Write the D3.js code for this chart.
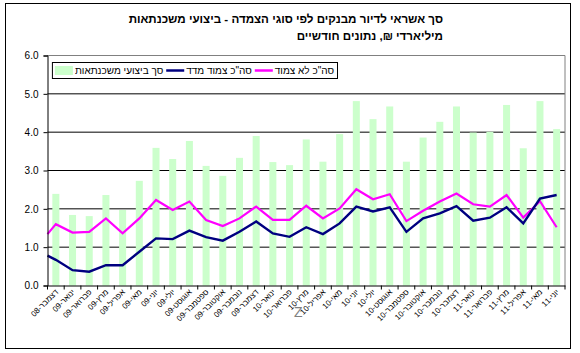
<!DOCTYPE html>
<html>
<head>
<meta charset="utf-8">
<script src="https://cdn.jsdelivr.net/npm/d3@7"></script>
<style>
  body { margin: 0; background: #fff; }
  svg { display: block; font-family: Arial, "Liberation Sans", "DejaVu Sans", sans-serif; }
</style>
</head>
<body>
<div id="chart"></div>
<script>
// months (x categories)
const months = [
  "דצמבר-08",
  "ינואר-09", "פברואר-09", "מרץ-09", "אפריל-09", "מאי-09", "יוני-09",
  "יולי-09", "אוגוסט-09", "ספטמבר-09", "אוקטובר-09", "נובמבר-09", "דצמבר-09",
  "ינואר-10", "פברואר-10", "מרץ-10", "אפריל-10", "מאי-10", "יוני-10",
  "יולי-10", "אוגוסט-10", "ספטמבר-10", "אוקטובר-10", "נובמבר-10", "דצמבר-10",
  "ינואר-11", "פברואר-11", "מרץ-11", "אפריל-11", "מאי-11", "יוני-11"
];

// mortgage performance (bars)
const mortgages = [2.39, 1.84, 1.81, 2.36, 1.97, 2.73, 3.59, 3.30, 3.77, 3.12, 2.86, 3.33,
  3.90, 3.22, 3.14, 3.81, 3.23, 3.95, 4.81, 4.34, 4.67, 3.23, 3.86, 4.27, 4.67,
  3.99, 4.01, 4.71, 3.58, 4.81, 4.08];

// CPI-linked total (navy line), first value sits on the axis edge
const linkedStart = 0.78;
const linked = [0.67, 0.40, 0.36, 0.53, 0.53, 0.88, 1.23, 1.21, 1.43, 1.26, 1.17, 1.40,
  1.67, 1.36, 1.27, 1.52, 1.34, 1.62, 2.06, 1.93, 2.04, 1.40, 1.75, 1.88, 2.07,
  1.69, 1.77, 2.04, 1.62, 2.27, 2.36];

// unlinked total (magenta line)
const unlinkedStart = 1.34;
const unlinked = [1.60, 1.38, 1.40, 1.75, 1.36, 1.75, 2.23, 1.97, 2.19, 1.71, 1.55, 1.75,
  2.06, 1.71, 1.71, 2.08, 1.75, 2.01, 2.51, 2.25, 2.38, 1.68, 1.95, 2.19, 2.40,
  2.12, 2.06, 2.36, 1.77, 2.20, 1.52];

const yTicks = [0, 1, 2, 3, 4, 5, 6];

const titleLines = ["סך אשראי לדיור מבנקים לפי סוגי הצמדה - ביצועי משכנתאות", "מיליארדי ₪, נתונים חודשיים"];
const legendItems = [
  {label: "סה\"כ לא צמוד", type: "line", color: "#ff00ff"},
  {label: "סה\"כ צמוד מדד", type: "line", color: "#000080"},
  {label: "סך ביצועי משכנתאות", type: "bar", color: "#ccffcc"}
];

const W = 580, H = 353;
const plot = {left: 47.5, right: 565, top: 55.5, bottom: 285.5};

const svg = d3.select("#chart").append("svg")
  .attr("width", W).attr("height", H);

// outer frame
svg.append("rect")
  .attr("x", 5.5).attr("y", 3.5)
  .attr("width", 565).attr("height", 345)
  .attr("fill", "#fff").attr("stroke", "#000");

// title
svg.append("g").selectAll("text")
  .data(titleLines)
  .join("text")
  .attr("x", 443)
  .attr("y", (d, i) => 23 + i * 17)
  .attr("text-anchor", "end")
  .style("font-size", "11.6px")
  .style("font-weight", "bold")
  .text(d => d);

const x = d3.scaleBand()
  .domain(months)
  .range([plot.left, plot.right])
  .paddingInner(0.58)
  .paddingOuter(0.29);

const xc = d3.scaleBand().domain(months).range([plot.left, plot.right]);

const y = d3.scaleLinear()
  .domain([0, 6])
  .range([plot.bottom, plot.top]);

// gridlines
svg.append("g").selectAll("line")
  .data(yTicks.slice(1))
  .join("line")
  .attr("x1", plot.left).attr("x2", plot.right)
  .attr("y1", d => y(d)).attr("y2", d => y(d))
  .attr("stroke", "#000");

// plot border (top / right)
svg.append("path")
  .attr("d", `M${plot.left},${plot.top}H${plot.right}V${plot.bottom}`)
  .attr("fill", "none")
  .attr("stroke", "#808080");

// bars
svg.append("g").selectAll("rect")
  .data(mortgages)
  .join("rect")
  .attr("x", (d, i) => x(months[i]))
  .attr("y", d => y(d))
  .attr("width", x.bandwidth())
  .attr("height", d => y(0) - y(d))
  .attr("fill", "#ccffcc");

// lines
const center = i => xc(months[i]) + xc.bandwidth() / 2;
function linePts(start, vals) {
  return [[plot.left, y(start)]].concat(vals.map((v, i) => [center(i), y(v)]));
}
const lineGen = d3.line();

svg.append("path")
  .attr("d", lineGen(linePts(unlinkedStart, unlinked)))
  .attr("fill", "none").attr("stroke", "#ff00ff").attr("stroke-width", 2.2);

svg.append("path")
  .attr("d", lineGen(linePts(linkedStart, linked)))
  .attr("fill", "none").attr("stroke", "#000080").attr("stroke-width", 2.4);

// y axis
const yAxis = svg.append("g")
  .attr("transform", `translate(${plot.left},0)`)
  .call(d3.axisLeft(y).tickValues(yTicks).tickFormat(d3.format(".1f")).tickSize(4).tickPadding(5));
yAxis.select(".domain").attr("stroke", "#000");
yAxis.selectAll("text").style("font-size", "10px").style("font-family", "Arial, 'Liberation Sans', sans-serif").attr("fill", "#000");

// x axis
const xAxis = svg.append("g")
  .attr("transform", `translate(0,${plot.bottom})`)
  .call(d3.axisBottom(xc).tickSize(0).tickFormat(""));
xAxis.select(".domain").attr("stroke", "#000");

svg.append("g").selectAll("line")
  .data(d3.range(months.length + 1))
  .join("line")
  .attr("x1", i => plot.left + i * xc.step()).attr("x2", i => plot.left + i * xc.step())
  .attr("y1", plot.bottom).attr("y2", plot.bottom + 4)
  .attr("stroke", "#000");

// label shown as "yy-month" so the year lands on the left, as in the RTL original
const monthLabel = d => { const [m, yr] = d.split("-"); return yr + "-" + m; };

svg.append("g").selectAll("text")
  .data(months)
  .join("text")
  .attr("transform", d => `translate(${xc(d) + xc.bandwidth() / 2 + 3},${plot.bottom + 7}) rotate(-45)`)
  .attr("text-anchor", "end")
  .style("font-size", "8px")
  .text(monthLabel);

// stray grey mark
svg.append("text")
  .attr("x", 294).attr("y", 317)
  .style("font-size", "14px")
  .attr("fill", "#808080")
  .text("Z");

// legend
const lg = svg.append("g");
const box = lg.append("rect")
  .attr("fill", "#fff").attr("stroke", "#000");
let cursor = 334;
legendItems.forEach(item => {
  const t = lg.append("text")
    .attr("x", cursor).attr("y", 74)
    .attr("text-anchor", "end")
    .style("font-size", "10px")
    .text(item.label);
  const w = t.node().getComputedTextLength();
  const sx = cursor - w - 2 - 18;
  if (item.type === "line") {
    lg.append("line")
      .attr("x1", sx).attr("x2", sx + 18)
      .attr("y1", 70.5).attr("y2", 70.5)
      .attr("stroke", item.color).attr("stroke-width", 2.5);
  } else {
    lg.append("rect")
      .attr("x", sx).attr("y", 66)
      .attr("width", 18).attr("height", 9)
      .attr("fill", item.color);
  }
  cursor = sx - 3;
});
box.attr("x", cursor + 0.5).attr("y", 62.5)
  .attr("width", 337.5 - cursor - 0.5).attr("height", 16);
</script>
</body>
</html>
